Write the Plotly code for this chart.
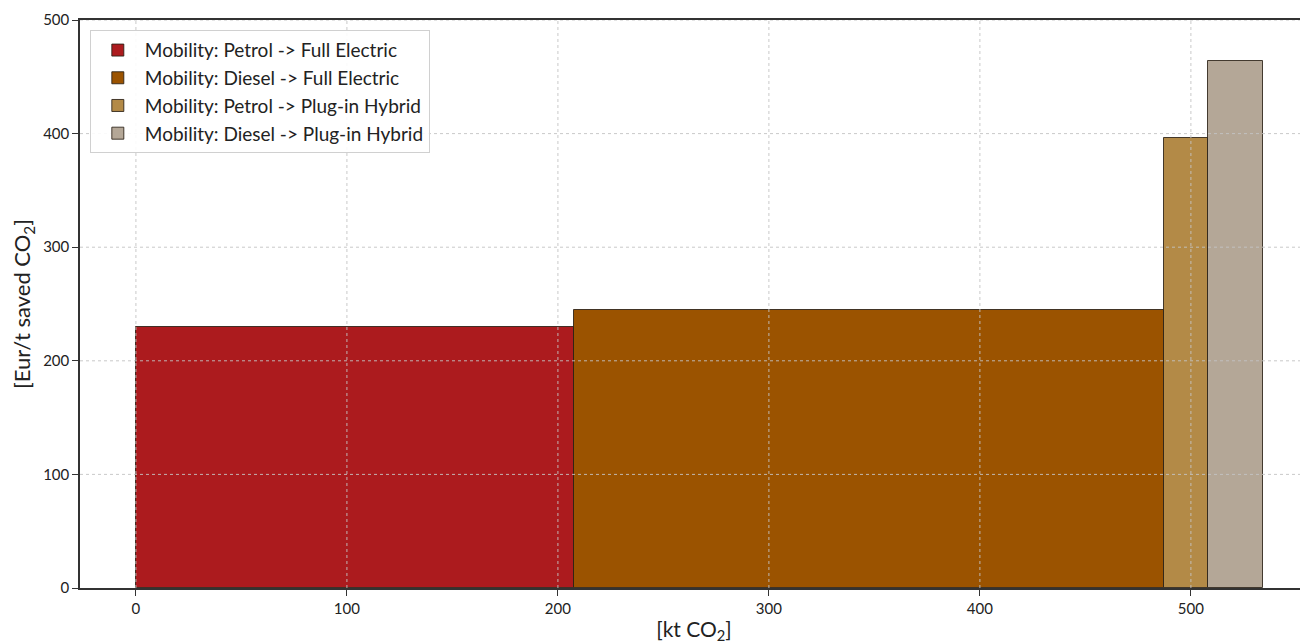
import plotly.graph_objects as go

labels = ["Mobility: Petrol -> Full Electric", "Mobility: Diesel -> Full Electric",
          "Mobility: Petrol -> Plug-in Hybrid", "Mobility: Diesel -> Plug-in Hybrid"]
widths = [207.6, 279.8, 20.9, 25.7]      # kt CO2 abated
costs = [229.8, 244.7, 396.0, 464.0]     # Eur / t saved CO2
colors = ["#AC1B1E", "#9B5300", "#B38A47", "#B4A797"]
x_ticks = [0, 100, 200, 300, 400, 500]
y_ticks = [0, 100, 200, 300, 400, 500]

starts = []
acc = 0.0
for w in widths:
    starts.append(acc)
    acc += w

fig = go.Figure()
for lab, s, w, c, col in zip(labels, starts, widths, costs, colors):
    fig.add_trace(go.Bar(x=[s], y=[c], width=[w], offset=0, name=lab,
                         marker=dict(color=col, line=dict(color="rgba(40,30,20,0.85)", width=1))))

xr = [-26.5, 555.5]
yr = [0, 500]
grid = dict(color="rgba(195,195,195,0.9)", width=1, dash="dot")
shapes = []
for t in x_ticks:
    shapes.append(dict(type="line", xref="x", yref="y", x0=t, x1=t, y0=yr[0], y1=yr[1],
                       line=grid, layer="above"))
for t in y_ticks[1:]:
    shapes.append(dict(type="line", xref="x", yref="y", x0=xr[0], x1=xr[1], y0=t, y1=t,
                       line=grid, layer="above"))

fig.update_layout(
    width=1300, height=636,
    margin=dict(l=72, r=0, t=12, b=56),
    plot_bgcolor="white", paper_bgcolor="white",
    font=dict(family="Lato, Open Sans, sans-serif", color="#222"),
    barmode="overlay", bargap=0,
    shapes=shapes,
    showlegend=True,
    legend=dict(x=0.008, y=0.982, xanchor="left", yanchor="top",
                bgcolor="rgba(255,255,255,0.9)", bordercolor="#d0d0d0", borderwidth=1,
                font=dict(size=19, color="#222"), traceorder="normal",
                itemwidth=44),
    xaxis=dict(range=xr, tickvals=x_ticks, showgrid=False, zeroline=False,
               showline=True, mirror=True, linecolor="#333", linewidth=1.5,
               ticks="outside", ticklen=6, tickcolor="#333", tickfont=dict(size=15),
               title=dict(text="[kt CO<sub>2</sub>]", font=dict(size=21), standoff=8)),
    yaxis=dict(range=yr, tickvals=y_ticks, showgrid=False, zeroline=False,
               showline=True, mirror=False, linecolor="#333", linewidth=1.5,
               ticks="outside", ticklen=6, tickcolor="#333", tickfont=dict(size=15),
               title=dict(text="[Eur/t saved CO<sub>2</sub>]", font=dict(size=22), standoff=12)),
)
fig.write_html("out.html")
